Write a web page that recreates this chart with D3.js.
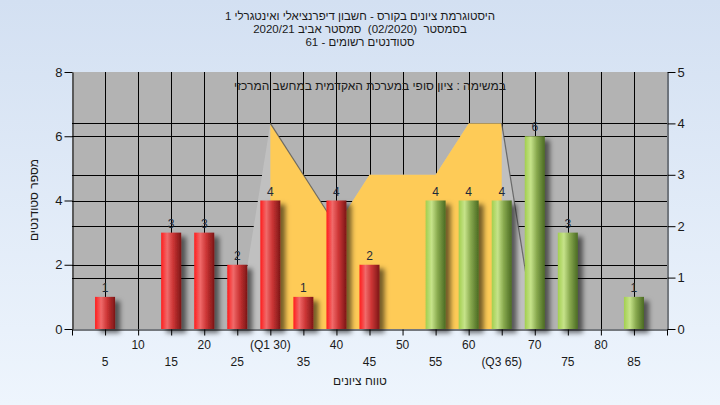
<!DOCTYPE html>
<html><head><meta charset="utf-8">
<script src="https://cdn.jsdelivr.net/npm/d3@7/dist/d3.min.js"></script>
<style>
html,body{margin:0;padding:0;}
svg{display:block;font-family:"Liberation Sans",Arial,"DejaVu Sans",sans-serif;}
</style></head>
<body>
<svg id="c" width="720" height="405"></svg>
<script>
// ---- data ----
const categories = [5,10,15,20,25,30,35,40,45,50,55,60,65,70,75,80,85];
const tickLabels = ["5","10","15","20","25","(Q1 30)","35","40","45","50","55","60","(Q3 65)","70","75","80","85"];
const barCategories = [5,15,20,25,30,35,40,45,55,60,65,70,75,85];
const barValues     = [1,3,3,2,4,1,4,2,4,4,4,6,3,1];
const areaCategories = [25,30,35,40,45,50,55,60,65,70];
const areaValues     = [0,4,3,2,3,3,3,4,4,0];
const q1 = 30, q3 = 65, passMark = 55;
const leftTicks = [0,2,4,6,8];
const rightTicks = [0,1,2,3,4,5];
const titleLines = ["היסטוגרמת ציונים בקורס - חשבון דיפרנציאלי ואינטגרלי 1",
                    "בסמסטר\u00a0\u00a0(02/2020)\u00a0\u00a0סמסטר אביב 2020/21",
                    "סטודנטים רשומים - 61"];
const legendText = "במשימה : ציון סופי במערכת האקדמית במחשב המרכזי";
const yTitle = "מספר סטודנטים";
const xTitle = "טווח ציונים";

// ---- layout ----
const W=720,H=405, L=72,R=667,T=72,B=329;
const svg=d3.select("#c");
const defs=svg.append("defs");

const bg=defs.append("linearGradient").attr("id","bg").attr("x1",0).attr("y1",0).attr("x2",0).attr("y2",1);
bg.append("stop").attr("offset",0).attr("stop-color","#d3e0f2");
bg.append("stop").attr("offset",1).attr("stop-color","#eef5fd");
const red=defs.append("linearGradient").attr("id","red").attr("x1",0).attr("y1",0).attr("x2",1).attr("y2",0);
[[0,"#ff1c1c"],[0.3,"#f06a6a"],[0.6,"#cc3535"],[1,"#7c1616"]].forEach(s=>red.append("stop").attr("offset",s[0]).attr("stop-color",s[1]));
const green=defs.append("linearGradient").attr("id","green").attr("x1",0).attr("y1",0).attr("x2",1).attr("y2",0);
[[0,"#a2cf4e"],[0.3,"#c6e38a"],[0.6,"#88a94e"],[1,"#4a6a22"]].forEach(s=>green.append("stop").attr("offset",s[0]).attr("stop-color",s[1]));
const sh=defs.append("filter").attr("id","sh").attr("x","-50%").attr("y","-20%").attr("width","220%").attr("height","150%");
sh.append("feDropShadow").attr("dx",5).attr("dy",4).attr("stdDeviation",2.5).attr("flood-color","#000").attr("flood-opacity",0.55);

const x=d3.scaleLinear().domain([0,90]).range([L,R]);
const yL=d3.scaleLinear().domain([0,8]).range([B,T]);
const yR=d3.scaleLinear().domain([0,5]).range([B,T]);

svg.append("rect").attr("width",W).attr("height",H).attr("fill","url(#bg)");
svg.append("rect").attr("x",L).attr("y",T).attr("width",R-L).attr("height",B-T).attr("fill","#b3b3b3");

// grid
const grid=svg.append("g").attr("stroke","#000").attr("stroke-width",1);
categories.forEach(c=>grid.append("line").attr("x1",Math.round(x(c))+0.5).attr("x2",Math.round(x(c))+0.5).attr("y1",T).attr("y2",B));
leftTicks.filter(v=>v>0&&v<8).forEach(v=>grid.append("line").attr("x1",L).attr("x2",R).attr("y1",Math.round(yL(v))+0.5).attr("y2",Math.round(yL(v))+0.5));
rightTicks.filter(v=>v>0&&v<5).forEach(v=>grid.append("line").attr("x1",L).attr("x2",R).attr("y1",Math.round(yR(v))+0.5).attr("y2",Math.round(yR(v))+0.5));

// area
const areaData=areaCategories.map((c,i)=>({c,v:areaValues[i]}));
const area=d3.area().x(d=>x(d.c)).y0(B).y1(d=>yR(d.v));
svg.append("path").attr("d",area(areaData)).attr("fill","#c0c0c0");
defs.append("clipPath").attr("id","iqr").append("rect").attr("x",x(q1)).attr("y",T).attr("width",x(q3)-x(q1)).attr("height",B-T);
svg.append("path").attr("d",area(areaData)).attr("fill","#fecb57").attr("clip-path","url(#iqr)");
// shaded edges on descending segments
for(let i=1;i<areaData.length;i++){
  if(areaData[i].v<areaData[i-1].v){
    svg.append("line").attr("x1",x(areaData[i-1].c)).attr("y1",yR(areaData[i-1].v))
      .attr("x2",x(areaData[i].c)).attr("y2",yR(areaData[i].v))
      .attr("stroke","#555").attr("stroke-width",1.2).attr("stroke-opacity",0.8);
  }
}

// bars
const bw=20;
const bars=svg.append("g");
barCategories.forEach((c,i)=>{
  const v=barValues[i];
  bars.append("rect").attr("x",x(c)-bw/2).attr("y",yL(v)).attr("width",bw).attr("height",B-yL(v))
    .attr("fill",c>=passMark?"url(#green)":"url(#red)").attr("filter","url(#sh)");
});
barCategories.forEach((c,i)=>{
  const v=barValues[i];
  svg.append("text").attr("x",x(c)).attr("y",yL(v)-5).attr("text-anchor","middle")
    .attr("font-size",12).attr("fill","#1e2a3a").text(v);
});

// axes
const fs=12;
const gl=svg.append("g").attr("transform",`translate(${L+0.5},0)`).call(d3.axisLeft(yL).tickValues(leftTicks).tickFormat(d3.format("d")).tickSize(8).tickSizeOuter(0).tickPadding(2));
const gr=svg.append("g").attr("transform",`translate(${R+0.5},0)`).call(d3.axisRight(yR).tickValues(rightTicks).tickFormat(d3.format("d")).tickSize(8).tickSizeOuter(0).tickPadding(2));
const gb=svg.append("g").attr("transform",`translate(0,${B+0.5})`).call(d3.axisBottom(x).tickValues([0].concat(categories,[90])).tickSize(6).tickSizeOuter(0).tickFormat(""));
[gl,gr,gb].forEach(g=>{g.selectAll("path,line").attr("stroke","#000");g.selectAll("text").attr("font-size",13).attr("fill","#1a1a1a").attr("font-family",null);});

// x tick labels in two rows
categories.forEach((c,i)=>{
  svg.append("text").attr("x",x(c)).attr("y",i%2===0?366:349).attr("text-anchor","middle")
    .attr("font-size",fs).attr("fill","#1a1a1a").text(tickLabels[i]);
});

// titles
titleLines.forEach((t,i)=>{
  svg.append("text").attr("x",360).attr("y",[20,33,46][i]).attr("text-anchor","middle")
    .attr("direction","rtl").attr("font-size",11.5).attr("fill","#1a1a1a").text(t);
});
svg.append("text").attr("x",370).attr("y",90).attr("text-anchor","middle").attr("direction","rtl")
  .attr("font-size",12).attr("fill","#1a1a1a").text(legendText);
svg.append("text").attr("x",360).attr("y",385).attr("text-anchor","middle").attr("direction","rtl")
  .attr("font-size",12).attr("fill","#1a1a1a").text(xTitle);
svg.append("text").attr("transform","translate(38,200) rotate(-90)").attr("text-anchor","middle").attr("direction","rtl")
  .attr("font-size",12).attr("fill","#1a1a1a").text(yTitle);
</script>
</body></html>
